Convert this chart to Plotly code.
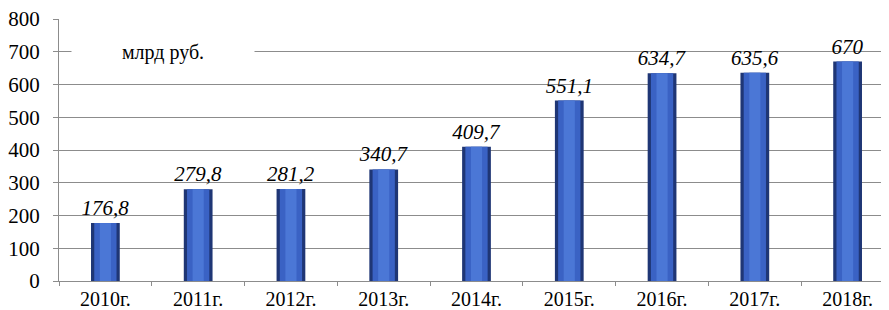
import plotly.graph_objects as go

years = ["2010г.", "2011г.", "2012г.", "2013г.", "2014г.", "2015г.", "2016г.", "2017г.", "2018г."]
values = [176.8, 279.8, 281.2, 340.7, 409.7, 551.1, 634.7, 635.6, 670]
labels = ["176,8", "279,8", "281,2", "340,7", "409,7", "551,1", "634,7", "635,6", "670"]
y_ticks = [0, 100, 200, 300, 400, 500, 600, 700, 800]

font = "Liberation Serif"

fig = go.Figure()
fig.add_trace(go.Bar(
    x=years, y=values, width=0.31,
    marker=dict(color="#1f3675", line=dict(width=0)),
    text=labels, textposition="outside", cliponaxis=False, constraintext="none",
    textfont=dict(family=font, size=21, color="#000000", style="italic"),
    hoverinfo="skip",
))
fig.add_trace(go.Bar(
    x=years, y=values, width=0.24,
    marker=dict(color="#3a62c4", line=dict(width=0)),
    hoverinfo="skip",
))
fig.add_trace(go.Bar(
    x=years, y=values, width=0.12,
    marker=dict(color="#4b77d6", line=dict(width=0)),
    hoverinfo="skip",
))

fig.update_layout(
    width=889, height=310,
    margin=dict(l=51, r=3, t=11, b=37, pad=0, autoexpand=False),
    barmode="overlay",
    showlegend=False,
    plot_bgcolor="white", paper_bgcolor="white",
    font=dict(family=font, size=21, color="#000000"),
    xaxis=dict(
        type="category", tickson="boundaries", ticks="outside", ticklen=4,
        tickcolor="#8c8c8c", showline=True, linecolor="#8c8c8c", linewidth=1,
        showgrid=False, tickfont=dict(family=font, size=20), ticklabelstandoff=0,
        automargin=False,
    ),
    yaxis=dict(
        range=[0, 800], tickvals=y_ticks, ticks="outside", ticklen=5,
        tickcolor="#8c8c8c", showline=True, linecolor="#8c8c8c", linewidth=1,
        showgrid=True, gridcolor="#8c8c8c", gridwidth=1, zeroline=False,
        tickfont=dict(family=font, size=21), ticklabelstandoff=9,
        ticklabeloverflow="allow", automargin=False,
    ),
    annotations=[dict(
        text="млрд руб.", xref="paper", yref="y", x=0.124, y=700,
        xanchor="center", yanchor="middle",
        showarrow=False, bgcolor="white", width=180, height=24,
        font=dict(family=font, size=20, color="#000000"),
    )],
)

fig.write_html("out.html")
